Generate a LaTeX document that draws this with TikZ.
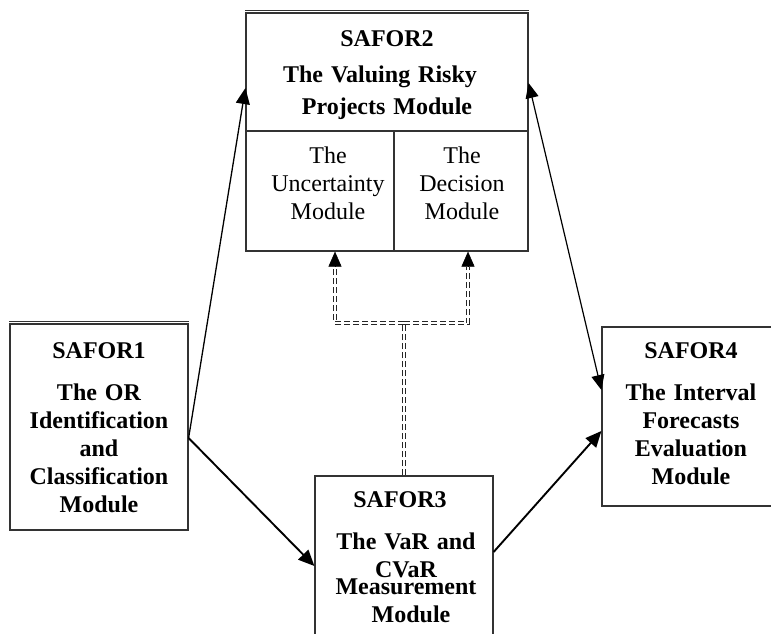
\documentclass[tikz,border=0pt]{standalone}
\usepackage{fontspec}
\setmainfont{Liberation Serif}
\usetikzlibrary{arrows.meta}
\begin{document}
\begin{tikzpicture}[x=1pt,y=-1pt,
  box/.style={draw=black!80, line width=1.2pt, rectangle, inner sep=0pt},
  edge/.style={draw=black!80, line width=1.2pt},
  ttl/.style={font=\bfseries\fontsize{24}{28}\selectfont, align=center, anchor=base, inner sep=0pt, text width=170pt},
  txt/.style={font=\fontsize{24}{28}\selectfont, align=center, anchor=base, inner sep=0pt, text width=140pt},
  arr/.style={-{Triangle[length=16pt,width=14pt]}, line width=1.9pt},
  thinarr/.style={-{Triangle[length=16pt,width=14pt]}, line width=1.3pt},
  biarr/.style={{Triangle[length=15pt,width=13pt]}-{Triangle[length=15pt,width=13pt]}, line width=1.2pt},
  dbl/.style={draw=black!85, double=white, double distance=1.3pt, line width=1.2pt, dash pattern=on 6pt off 3pt},
  tipend/.style={-{Triangle[length=15pt,width=13pt]}, line width=0.5pt}
]
\useasboundingbox (0,0) rectangle (771,633);
\clip (0,0) rectangle (771,633);

% boxes
\node[box, minimum width=178pt, minimum height=206pt] (s1) at (99,427) {};
\draw[edge] ([yshift=2.2pt]s1.north west) -- ([yshift=2.2pt]s1.north east);
\node[box, minimum width=282pt, minimum height=238pt] (s2) at (387,132) {};
\draw[edge] ([yshift=2.2pt]s2.north west) -- ([yshift=2.2pt]s2.north east);
\draw[edge] ([yshift=1pt]s2.west) -- ([yshift=1pt]s2.east);
\draw[edge] ([xshift=7pt,yshift=1pt]s2.center) -- ([xshift=7pt]s2.south);
\node[box, minimum width=178pt, minimum height=174pt] (s3) at (404,563) {};
\node[box, minimum width=173pt, minimum height=179pt] (s4) at (688.5,416.5) {};

% texts
\node[ttl] (t1) at (99,358) {SAFOR1\\[14pt]The OR\\Identification\\and\\Classification\\Module};
\node[ttl, text width=270pt] (t2) at (387,46) {SAFOR2\\[8pt]The Valuing Risky\rule{14pt}{0pt}\\[4pt]Projects Module};
\node[txt] (u) at (328,163) {The\\Uncertainty\\Module};
\node[txt] (d) at (462,163) {The\\Decision\\Module};
\node[ttl] (t3a) at (400,507) {SAFOR3};
\node[ttl] (t3b) at (406,549) {The VaR and\\CVaR};
\node[ttl] (t3c) at (406,594) {Measurement\\\rule{10pt}{0pt}Module};
\node[ttl] (t4) at (691,358) {SAFOR4\\[14pt]The Interval\\Forecasts\\Evaluation\\Module};

% arrows
\draw[thinarr] ([yshift=-11pt]s1.east) -- ([yshift=44pt]s2.west);
\draw[arr] ([yshift=-11pt]s1.east) -- ([yshift=-3pt]s3.west);
\draw[arr] ([yshift=11pt]s3.east) -- ([yshift=-14.5pt]s4.west);
\draw[biarr] ([yshift=49pt]s2.east) -- ([yshift=26.5pt]s4.west);

% dashed connectors
\coordinate (j) at (404,323);
\draw[dbl] (s3.north) -- (j);
\draw[dbl] (j) -| ([xshift=-52pt,yshift=-15pt]s2.south);
\draw[dbl] (j) -| ([xshift=81pt,yshift=-15pt]s2.south);
\draw[tipend] ([xshift=-52pt,yshift=-15pt]s2.south) -- ([xshift=-52pt]s2.south);
\draw[tipend] ([xshift=81pt,yshift=-15pt]s2.south) -- ([xshift=81pt]s2.south);
\end{tikzpicture}
\end{document}
